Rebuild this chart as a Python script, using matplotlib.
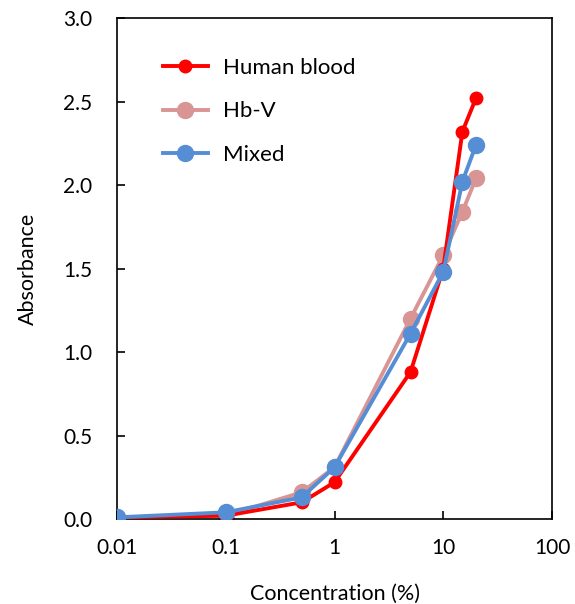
import matplotlib.pyplot as plt

plt.rcParams['font.family'] = ['Lato', 'DejaVu Sans']

conc = [0.01, 0.1, 0.5, 1, 5, 10, 15, 20]
human = [0.01, 0.02, 0.10, 0.22, 0.88, 1.50, 2.32, 2.52]
hbv = [0.01, 0.02, 0.16, 0.31, 1.20, 1.58, 1.84, 2.04]
mixed = [0.01, 0.04, 0.13, 0.31, 1.11, 1.48, 2.02, 2.24]

fig = plt.figure(figsize=(5.75, 6.04), dpi=100)
ax = fig.add_axes([0.2035, 0.1407, 0.7565, 0.8295])

ax.plot(conc, hbv, color="#D99594", lw=2.8, marker="o", ms=11.5, label="Hb-V", zorder=2)
ax.plot(conc, human, color="#FF0000", lw=2.8, marker="o", ms=9, label="Human blood", zorder=3)
ax.plot(conc, mixed, color="#558ED5", lw=2.8, marker="o", ms=11.5, label="Mixed", zorder=4)

ax.set_xscale("log")
ax.set_xlim(0.01, 100)
ax.set_ylim(0, 3.0)
ax.set_xticks([0.01, 0.1, 1, 10, 100])
ax.set_xticklabels(["0.01", "0.1", "1", "10", "100"])
ax.set_yticks([0, 0.5, 1.0, 1.5, 2.0, 2.5, 3.0])
ax.set_yticklabels(["0.0", "0.5", "1.0", "1.5", "2.0", "2.5", "3.0"])
ax.minorticks_off()
ax.tick_params(direction="in", length=6, width=1.2, labelsize=15)
ax.tick_params(axis="y", pad=18)
ax.tick_params(axis="x", pad=14)
for s in ax.spines.values():
    s.set_linewidth(1.2)

ax.set_xlabel("Concentration (%)", fontsize=15.5, labelpad=18)
ax.set_ylabel("Absorbance", fontsize=15.5, labelpad=18)

h, l = ax.get_legend_handles_labels()
order = [1, 0, 2]
ax.legend([h[i] for i in order], [l[i] for i in order], loc="upper left",
          bbox_to_anchor=(0.06, 0.96), frameon=False, fontsize=16,
          handlelength=2.0, labelspacing=1.05, handletextpad=0.7)

plt.savefig("out.png", dpi=100)
